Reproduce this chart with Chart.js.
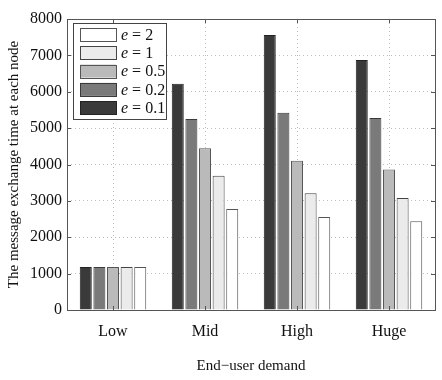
<!DOCTYPE html>
<html>
<head>
<meta charset="utf-8">
<script src="https://cdn.jsdelivr.net/npm/chart.js@4"></script>
<style>
  html, body { margin: 0; padding: 0; background: #fff; }
  #wrap { width: 442px; height: 380px; }
</style>
</head>
<body>
<div id="wrap"><canvas id="myChart" width="442" height="380"></canvas></div>
<script>
// values
const categories = ['Low', 'Mid', 'High', 'Huge'];
const e01 = [1180, 6220, 7560, 6870];
const e02 = [1180, 5250, 5420, 5280];
const e05 = [1180, 4450, 4100, 3860];
const e1 = [1180, 3690, 3210, 3080];
const e2 = [1180, 2780, 2560, 2440];
const eLabels = ['0.1', '0.2', '0.5', '1', '2'];
const yMin = 0, yMax = 8000, yStep = 1000;

const serif = '"Liberation Serif", "DejaVu Serif", serif';

// frame round the plot with small inward ticks
const framePlugin = {
  id: 'frame',
  afterDatasetsDraw(chart) {
    const ctx = chart.ctx;
    const a = chart.chartArea;
    const y = chart.scales.y;
    const x = chart.scales.x;
    ctx.save();
    ctx.strokeStyle = '#555';
    ctx.lineWidth = 1;
    ctx.strokeRect(Math.round(a.left) + 0.5, Math.round(a.top) + 0.5,
      Math.round(a.right - a.left), Math.round(a.bottom - a.top));
    ctx.beginPath();
    y.ticks.forEach(t => {
      const py = Math.round(y.getPixelForValue(t.value)) + 0.5;
      ctx.moveTo(a.left, py); ctx.lineTo(a.left + 4, py);
      ctx.moveTo(a.right, py); ctx.lineTo(a.right - 4, py);
    });
    categories.forEach((c, i) => {
      const px = Math.round(x.getPixelForValue(i)) + 0.5;
      ctx.moveTo(px, a.bottom); ctx.lineTo(px, a.bottom - 4);
      ctx.moveTo(px, a.top); ctx.lineTo(px, a.top + 4);
    });
    ctx.stroke();
    ctx.restore();
  }
};

// legend box inside the plot, listed from e = 2 down to e = 0.1
const boxLegend = {
  id: 'boxLegend',
  afterDraw(chart) {
    const ctx = chart.ctx;
    const a = chart.chartArea;
    const left = a.left + 6, top = a.top + 4;
    const w = 93, h = 96;
    ctx.save();
    ctx.fillStyle = '#fff';
    ctx.fillRect(left, top, w, h);
    ctx.strokeStyle = '#444';
    ctx.lineWidth = 1;
    ctx.strokeRect(Math.round(left) + 0.5, Math.round(top) + 0.5, w, h);
    const sets = chart.data.datasets.slice().reverse();
    sets.forEach((ds, i) => {
      const cy = top + 11.5 + i * 18.3;
      ctx.fillStyle = ds.backgroundColor;
      ctx.fillRect(left + 7, cy - 6.5, 36, 13);
      ctx.strokeStyle = ds.borderColor;
      ctx.strokeRect(Math.round(left + 7) + 0.5, Math.round(cy - 6.5) + 0.5, 36, 13);
      ctx.fillStyle = '#111';
      ctx.textBaseline = 'middle';
      ctx.textAlign = 'left';
      ctx.font = 'italic 16px ' + serif;
      const tx = left + 48;
      ctx.fillText('e', tx, cy + 1);
      const ew = ctx.measureText('e').width;
      ctx.font = '16px ' + serif;
      ctx.fillText(' = ' + ds.eValue, tx + ew, cy + 1);
    });
    ctx.restore();
  }
};

const fills = ['#3a3a3a', '#7a7a7a', '#bababa', '#ebebeb', '#ffffff'];
const borders = ['#222222', '#3a3a3a', '#555555', '#444444', '#555555'];
const seriesValues = [e01, e02, e05, e1, e2];

const datasets = seriesValues.map((vals, i) => ({
  label: 'e = ' + eLabels[i],
  eValue: eLabels[i],
  data: vals,
  backgroundColor: fills[i],
  borderColor: borders[i],
  borderWidth: 1,
  categoryPercentage: 0.74,
  barPercentage: 0.88
}));

const ctx = document.getElementById('myChart').getContext('2d');
const chart = new Chart(ctx, {
  type: 'bar',
  data: { labels: categories, datasets: datasets },
  options: {
    responsive: false,
    animation: false,
    layout: { padding: { top: 19, right: 7, left: 0, bottom: 0 } },
    scales: {
      x: {
        grid: { color: '#bdbdbd', lineWidth: 1, offset: false, drawTicks: false },
        border: { display: false, dash: [1, 3] },
        ticks: { font: { family: serif, size: 16 }, color: '#111', padding: 12 },
        title: {
          display: true,
          text: 'End\u2212user demand',
          font: { family: serif, size: 15 },
          color: '#111',
          padding: { top: 10, bottom: 5 }
        },
        afterFit: s => { s.height = 70; }
      },
      y: {
        min: yMin,
        max: yMax,
        grid: { color: '#bdbdbd', lineWidth: 1, drawTicks: false },
        border: { display: false, dash: [1, 3] },
        ticks: {
          stepSize: yStep,
          font: { family: serif, size: 16 },
          color: '#111',
          padding: 5,
          callback: v => String(v)
        },
        title: {
          display: true,
          text: 'The message exchange time at each node',
          font: { family: serif, size: 15 },
          color: '#111',
          padding: { top: 5, bottom: 4 }
        },
        afterFit: s => { s.width = 67; }
      }
    },
    plugins: {
      legend: { display: false },
      tooltip: { enabled: false }
    }
  },
  plugins: [framePlugin, boxLegend]
});
</script>
</body>
</html>
